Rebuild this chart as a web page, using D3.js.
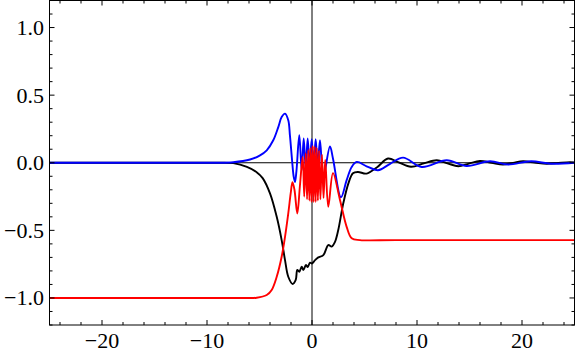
<!DOCTYPE html>
<html>
<head>
<meta charset="utf-8">
<script src="https://cdn.jsdelivr.net/npm/d3@7"></script>
<style>
  html, body { margin: 0; padding: 0; background: #fff; }
  svg { display: block; }
</style>
</head>
<body>
<div id="chart"></div>
<script>
// x ranges and tick labels
const xDomain = [-25, 25];
const yDomain = [-1.2, 1.2];
const xTicks = [-20, -10, 0, 10, 20];
const yTicks = [-1.0, -0.5, 0.0, 0.5, 1.0];

// black curve [x, y]
const blackSeries = [
  [-25, 0], [-12, 0], [-9, 0], [-7.5, -0.003], [-6.2, -0.03], [-5.3, -0.068], [-4.7, -0.114],
  [-4.0, -0.227], [-3.36, -0.40], [-2.89, -0.572], [-2.57, -0.72], [-2.26, -0.843], [-1.84, -0.897],
  [-1.55, -0.867], [-1.40, -0.793], [-1.21, -0.806], [-0.98, -0.769], [-0.83, -0.793], [-0.57, -0.756],
  [-0.41, -0.771], [-0.19, -0.739], [0, -0.745], [0.29, -0.72], [0.6, -0.70], [1.08, -0.683],
  [1.55, -0.609], [1.87, -0.62], [2.19, -0.585], [2.5, -0.498], [2.98, -0.30], [3.46, -0.154],
  [3.9, -0.077], [4.38, -0.068], [5.2, -0.08], [6.2, -0.033], [7.24, 0.031], [8.2, 0.005],
  [9.43, -0.03], [10.65, -0.005], [11.88, 0.018], [12.9, -0.004], [13.93, -0.026], [14.95, -0.006],
  [16.0, 0.013], [17.1, 0], [18.19, -0.013], [19.15, -0.001], [20.1, 0.011], [21.2, 0.002],
  [22.35, -0.007], [23.45, -0.001], [24.57, 0.004], [25, 0.003]
];

// blue curve [x, y]
const blueSeries = [
  [-25, 0], [-12, 0], [-9, 0], [-7.5, 0.004], [-5.9, 0.024], [-4.95, 0.055], [-4.31, 0.092],
  [-3.69, 0.166], [-3.21, 0.264], [-2.89, 0.338], [-2.57, 0.363], [-2.26, 0.314], [-2.1, 0.20],
  [-1.9, 0.02], [-1.75, -0.1], [-1.62, -0.142], [-1.48, -0.06], [-1.21, 0.203], [-0.98, -0.055],
  [-0.79, 0.179], [-0.6, -0.04], [-0.41, 0.179], [-0.22, -0.03], [-0.03, 0.174], [0.16, -0.02],
  [0.35, 0.174], [0.54, -0.03], [0.76, 0.166], [1.08, -0.105], [1.71, 0.12], [2.0, 0.03],
  [2.76, -0.255], [3.3, -0.129], [3.78, -0.031], [4.26, 0.006], [5.2, -0.026], [6.29, -0.055],
  [7.4, -0.01], [8.67, 0.038], [10.45, -0.031], [12.83, 0.018], [14.73, -0.024], [16.95, 0.011],
  [18.67, -0.013], [20.86, 0.011], [22.76, -0.007], [25, 0.0]
];

// red curve [x, y]
const redSeries = [
  [-25, -1], [-10, -1], [-6.5, -1.0], [-5.27, -0.998], [-4.31, -0.978], [-3.84, -0.941],
  [-3.36, -0.843], [-2.89, -0.695], [-2.57, -0.548], [-2.26, -0.375], [-2.03, -0.227],
  [-1.86, -0.144], [-1.67, -0.20], [-1.40, -0.375], [-1.15, -0.17], [-0.886, 0.043],
  [-0.74, -0.25], [-0.6, 0.07], [-0.47, -0.27], [-0.36, 0.095], [-0.25, -0.28], [-0.15, 0.11],
  [-0.05, -0.29], [0.05, 0.125], [0.15, -0.29], [0.25, 0.12], [0.35, -0.29], [0.45, 0.11],
  [0.56, -0.28], [0.67, 0.09], [0.80, -0.27], [0.95, 0.06], [1.10, -0.26], [1.26, 0.02],
  [1.55, -0.326], [2.0, -0.077], [2.67, -0.277], [3.3, -0.474], [3.78, -0.559],
  [4.57, -0.572], [8, -0.572], [25, -0.572]
];

const width = 576, height = 356;
const mLeft = 49.5, mRight = 574.5, mTop = 0.5, mBottom = 325;

const svg = d3.select("#chart").append("svg").attr("width", width).attr("height", height);
const x = d3.scaleLinear().domain(xDomain).range([mLeft, mRight]);
const y = d3.scaleLinear().domain(yDomain).range([mBottom, mTop]);

svg.append("defs").append("clipPath").attr("id", "clip")
  .append("rect").attr("x", mLeft).attr("y", mTop).attr("width", mRight - mLeft).attr("height", mBottom - mTop);

// axes through origin
svg.append("line").attr("x1", mLeft).attr("x2", mRight).attr("y1", y(0)).attr("y2", y(0))
  .attr("stroke", "#000").attr("stroke-width", 1);
svg.append("line").attr("x1", x(0)).attr("x2", x(0)).attr("y1", mTop).attr("y2", mBottom)
  .attr("stroke", "#000").attr("stroke-width", 1);

const line = d3.line().x(d => x(d[0])).y(d => y(d[1])).curve(d3.curveCatmullRom.alpha(0.5));
const g = svg.append("g").attr("clip-path", "url(#clip)");
[[blackSeries, "#000"], [blueSeries, "#0000ff"], [redSeries, "#ff0000"]].forEach(([data, color]) => {
  g.append("path").datum(data).attr("fill", "none").attr("stroke", color)
    .attr("stroke-width", 1.9).attr("stroke-linejoin", "round").attr("d", line);
});

// frame
svg.append("rect").attr("x", mLeft).attr("y", mTop).attr("width", mRight - mLeft).attr("height", mBottom - mTop)
  .attr("fill", "none").attr("stroke", "#000").attr("stroke-width", 1);

// ticks on all four sides, pointing inward
const xMinor = d3.range(-24, 25, 2);
const yMinor = d3.range(-12, 13).map(v => v / 10);
const tickG = svg.append("g").attr("stroke", "#000").attr("stroke-width", 1);
xMinor.forEach(v => {
  const len = v % 10 === 0 ? 5 : 3;
  tickG.append("line").attr("x1", x(v)).attr("x2", x(v)).attr("y1", mBottom).attr("y2", mBottom - len);
  tickG.append("line").attr("x1", x(v)).attr("x2", x(v)).attr("y1", mTop).attr("y2", mTop + len);
});
yMinor.forEach(v => {
  const len = Math.abs(Math.round(v * 10)) % 5 === 0 ? 5 : 3;
  tickG.append("line").attr("x1", mLeft).attr("x2", mLeft + len).attr("y1", y(v)).attr("y2", y(v));
  tickG.append("line").attr("x1", mRight).attr("x2", mRight - len).attr("y1", y(v)).attr("y2", y(v));
});

const fmt = v => (v < 0 ? "\u2212" : "") + Math.abs(v);
svg.append("g").selectAll("text").data(xTicks).join("text")
  .attr("x", d => x(d)).attr("y", 348)
  .attr("text-anchor", "middle")
  .attr("font-family", "'Liberation Serif', 'Times New Roman', serif").attr("font-size", "22px")
  .text(d => fmt(d));
svg.append("g").selectAll("text").data(yTicks).join("text")
  .attr("x", 44).attr("y", d => y(d) + 7.5)
  .attr("text-anchor", "end")
  .attr("font-family", "'Liberation Serif', 'Times New Roman', serif").attr("font-size", "22px")
  .text(d => (d < 0 ? "\u2212" : "") + Math.abs(d).toFixed(1));
</script>
</body>
</html>
